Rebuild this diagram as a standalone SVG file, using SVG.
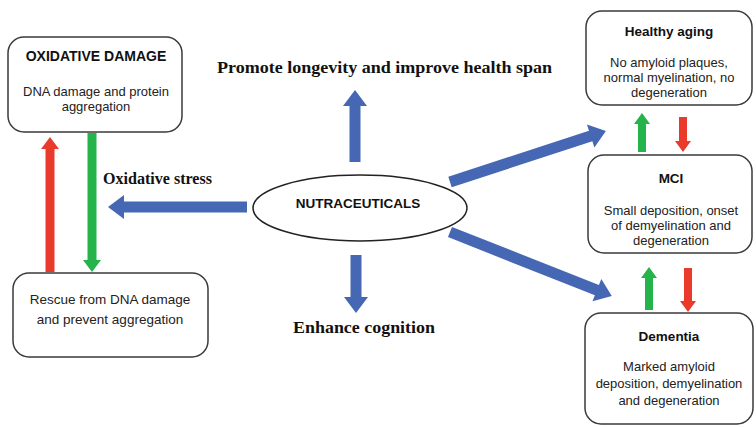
<svg xmlns="http://www.w3.org/2000/svg" width="756" height="427" viewBox="0 0 756 427">
<style>
.box{fill:#fff;stroke:#3a3a3a;stroke-width:1.5}
.t{font-family:"Liberation Sans",Arial,sans-serif;font-size:13px;fill:#222;text-anchor:middle}
.tb{font-family:"Liberation Sans",Arial,sans-serif;font-size:13.5px;font-weight:bold;fill:#111;text-anchor:middle}
.s{font-family:"Liberation Serif","Times New Roman",serif;font-size:16px;font-weight:bold;fill:#111}
.blue{fill:#4667b3}
.red{fill:#ea3a2c}
.green{fill:#25b34b}
</style>
<rect width="756" height="427" fill="#fff"/>
<g id="connectors">
<polygon class="blue" transform="translate(355,162) rotate(-90)" points="0,-5.5 56,-5.5 56,-12 72,0 56,12 56,5.5 0,5.5"/>
<polygon class="blue" transform="translate(356,255) rotate(90)" points="0,-5.5 42,-5.5 42,-12 58,0 42,12 42,5.5 0,5.5"/>
<polygon class="blue" transform="translate(247,207) rotate(180)" points="0,-5.5 123,-5.5 123,-12 139,0 123,12 123,5.5 0,5.5"/>
<polygon class="blue" transform="translate(450,182) rotate(-18.1)" points="0,-5.5 148,-5.5 148,-12 164,0 148,12 148,5.5 0,5.5"/>
<polygon class="blue" transform="translate(450,232) rotate(21.6)" points="0,-5.5 158,-5.5 158,-12 174,0 158,12 158,5.5 0,5.5"/>
<polygon class="red" transform="translate(50,272) rotate(-90)" points="0,-4.5 123,-4.5 123,-9 135,0 123,9 123,4.5 0,4.5"/>
<polygon class="green" transform="translate(92,133) rotate(90)" points="0,-4.5 127,-4.5 127,-9 139,0 127,9 127,4.5 0,4.5"/>
<polygon class="green" transform="translate(642,152) rotate(-90)" points="0,-4 28,-4 28,-8 39,0 28,8 28,4 0,4"/>
<polygon class="red" transform="translate(683,117) rotate(90)" points="0,-4 24,-4 24,-8 35,0 24,8 24,4 0,4"/>
<polygon class="green" transform="translate(649,310) rotate(-90)" points="0,-4 32,-4 32,-8 43,0 32,8 32,4 0,4"/>
<polygon class="red" transform="translate(688,268) rotate(90)" points="0,-4 33,-4 33,-8 44,0 33,8 33,4 0,4"/>
</g>
<g id="oxidative-damage">
<rect class="box" x="8" y="37" width="174" height="95" rx="16"/>
<text class="tb" x="96" y="61" style="font-size:14px">OXIDATIVE DAMAGE</text>
<text class="t" x="96" y="96">DNA damage and protein</text>
<text class="t" x="96" y="111">aggregation</text>
</g>
<g id="rescue">
<rect class="box" x="13" y="273" width="195" height="84" rx="16"/>
<text class="t" x="110" y="304" style="font-size:13.5px">Rescue from DNA damage</text>
<text class="t" x="110" y="324" style="font-size:13.5px">and prevent aggregation</text>
</g>
<g id="nutraceuticals">
<ellipse cx="360" cy="208" rx="107" ry="33" fill="#fff" stroke="#222" stroke-width="1.5"/>
<text class="tb" x="358" y="208">NUTRACEUTICALS</text>
</g>
<g id="healthy-aging">
<rect class="box" x="586" y="11" width="166" height="94" rx="16"/>
<text class="tb" x="669" y="36">Healthy aging</text>
<text class="t" x="669" y="67">No amyloid plaques,</text>
<text class="t" x="669" y="82">normal myelination, no</text>
<text class="t" x="669" y="97">degeneration</text>
</g>
<g id="mci">
<rect class="box" x="588" y="155" width="164" height="98" rx="16"/>
<text class="tb" x="671" y="183">MCI</text>
<text class="t" x="671" y="215">Small deposition, onset</text>
<text class="t" x="671" y="230">of demyelination and</text>
<text class="t" x="671" y="245">degeneration</text>
</g>
<g id="dementia">
<rect class="box" x="585" y="313" width="168" height="111" rx="16"/>
<text class="tb" x="669" y="341">Dementia</text>
<text class="t" x="669" y="371">Marked amyloid</text>
<text class="t" x="669" y="388">deposition, demyelination</text>
<text class="t" x="669" y="405">and degeneration</text>
</g>
<g id="labels">
<text class="s" x="217" y="73" textLength="335" lengthAdjust="spacingAndGlyphs">Promote longevity and improve health span</text>
<text class="s" x="103" y="184" textLength="109" lengthAdjust="spacingAndGlyphs">Oxidative stress</text>
<text class="s" x="293" y="333" textLength="142" lengthAdjust="spacingAndGlyphs">Enhance cognition</text>
</g>
</svg>
